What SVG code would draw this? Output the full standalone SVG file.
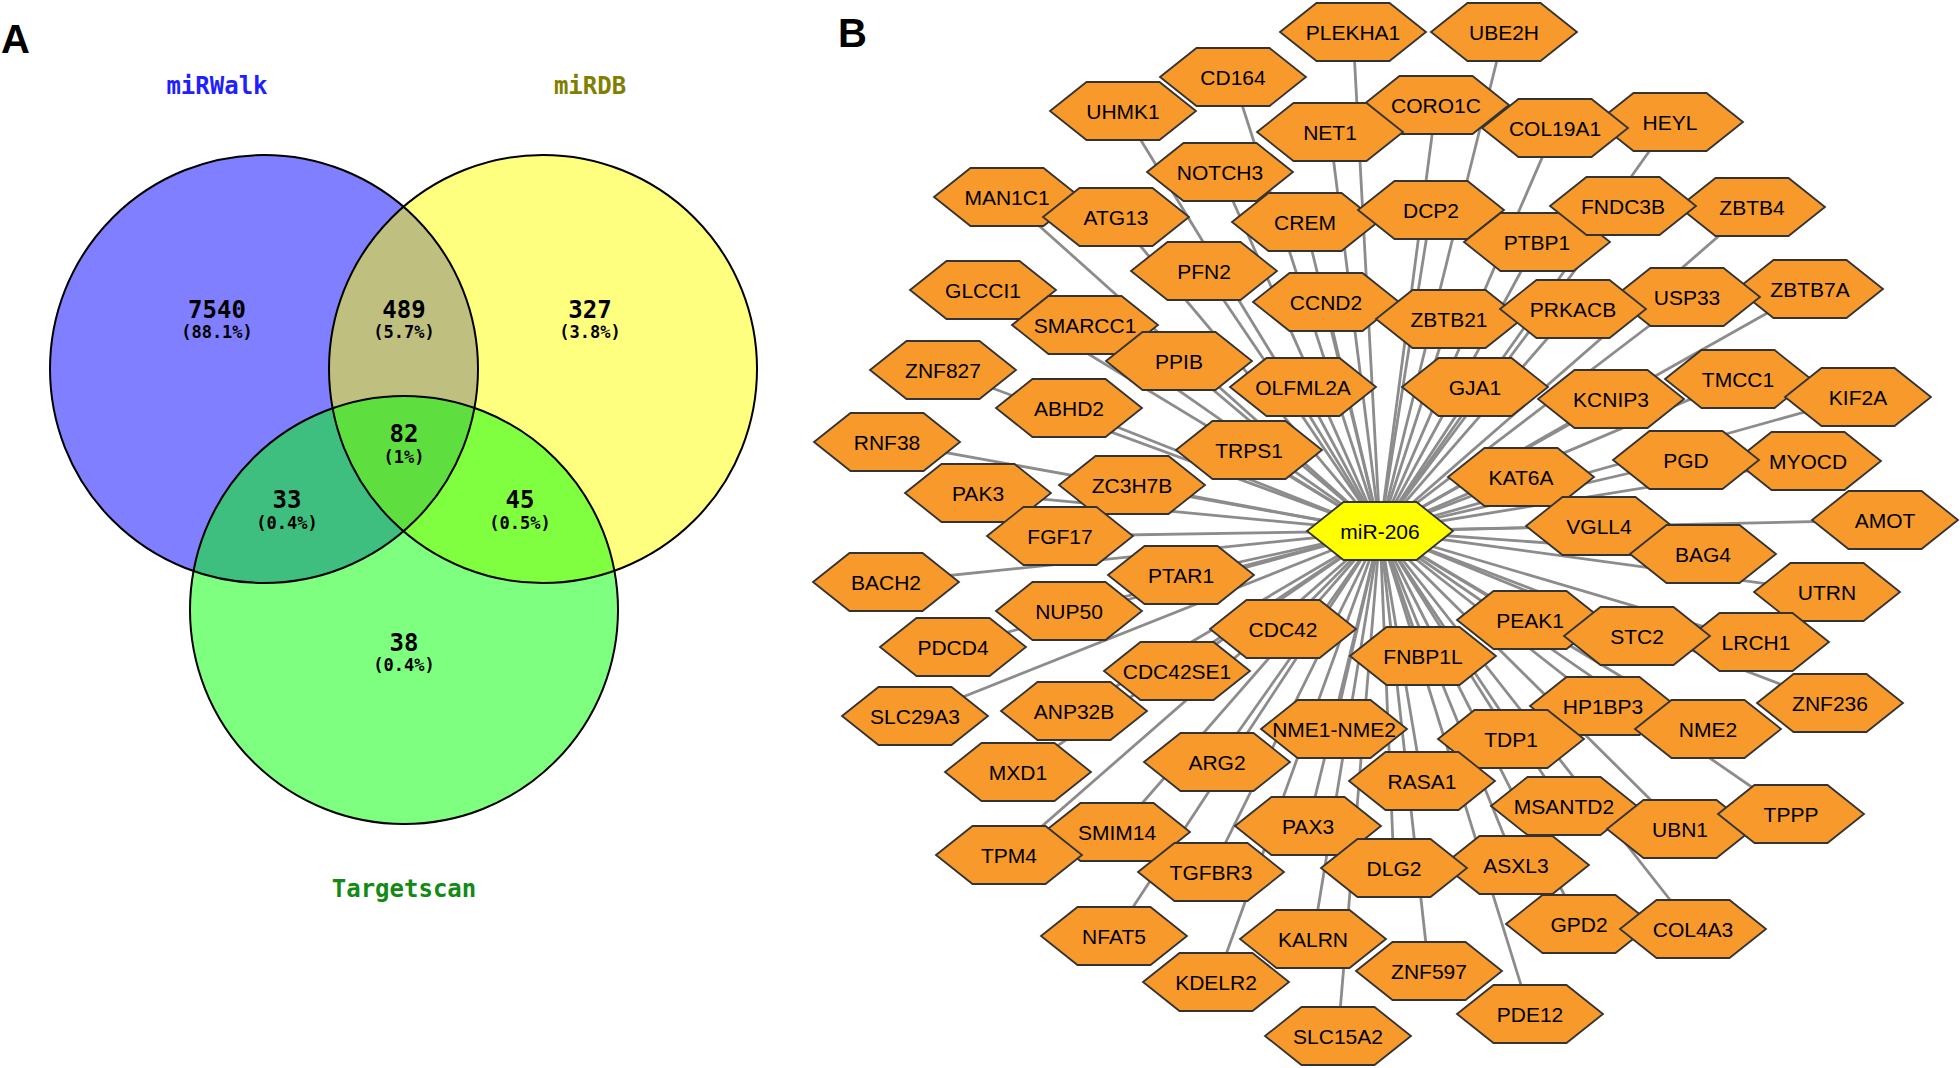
<svg xmlns="http://www.w3.org/2000/svg" xmlns:xlink="http://www.w3.org/1999/xlink" width="1960" height="1068" viewBox="0 0 1960 1068">
<style>
.hx{fill:#f7992b;stroke:#333;stroke-width:1.8}
.mir{fill:#ffff00;stroke:#333;stroke-width:1.8}
.lbl{font-family:"Liberation Sans",Arial,sans-serif;font-size:21px;text-anchor:middle;fill:#000}
.edges line{stroke:#8c8c8c;stroke-width:2.8}
.vnum{font-family:"DejaVu Sans Mono",monospace;font-size:24px;font-weight:bold;text-anchor:middle;fill:#000}
.vpct{font-family:"DejaVu Sans Mono",monospace;font-size:17px;font-weight:bold;text-anchor:middle;fill:#000}
.vlab{font-family:"DejaVu Sans Mono",monospace;font-size:24px;font-weight:bold;text-anchor:middle}
.panel{font-family:"Liberation Sans",Arial,sans-serif;font-size:40px;font-weight:bold;fill:#000}
.vout{fill:none;stroke:#000;stroke-width:2}
</style>
<defs>
<polygon id="hex" points="-73,0 -36.5,-29 36.5,-29 73,0 36.5,29 -36.5,29"/>
</defs>
<rect width="1960" height="1068" fill="#fff"/>
<text class="panel" x="1" y="53">A</text>
<text class="panel" x="838" y="47">B</text>
<g id="venn">
<circle cx="264" cy="369" r="214" fill="#0000ff" fill-opacity="0.5"/>
<circle cx="543" cy="369" r="214" fill="#ffff00" fill-opacity="0.5"/>
<circle cx="404" cy="610" r="214" fill="#00ff00" fill-opacity="0.5"/>
<circle class="vout" cx="264" cy="369" r="214"/>
<circle class="vout" cx="543" cy="369" r="214"/>
<circle class="vout" cx="404" cy="610" r="214"/>
<text class="vlab" x="217" y="94" fill="#1f1fff">miRWalk</text>
<text class="vlab" x="590" y="94" fill="#808000">miRDB</text>
<text class="vlab" x="404" y="897" fill="#138a13">Targetscan</text>
<text class="vnum" x="217" y="318">7540</text><text class="vpct" x="217" y="338">(88.1%)</text>
<text class="vnum" x="404" y="318">489</text><text class="vpct" x="404" y="338">(5.7%)</text>
<text class="vnum" x="590" y="318">327</text><text class="vpct" x="590" y="338">(3.8%)</text>
<text class="vnum" x="404" y="442">82</text><text class="vpct" x="404" y="463">(1%)</text>
<text class="vnum" x="287" y="508">33</text><text class="vpct" x="287" y="529">(0.4%)</text>
<text class="vnum" x="520" y="508">45</text><text class="vpct" x="520" y="529">(0.5%)</text>
<text class="vnum" x="404" y="651">38</text><text class="vpct" x="404" y="671">(0.4%)</text>
</g>
<g id="connectors" class="edges">
<line x1="1380" y1="531" x2="1353" y2="32"/>
<line x1="1380" y1="531" x2="1504" y2="32"/>
<line x1="1380" y1="531" x2="1233" y2="77"/>
<line x1="1380" y1="531" x2="1123" y2="111"/>
<line x1="1380" y1="531" x2="1670" y2="122"/>
<line x1="1380" y1="531" x2="1555" y2="128"/>
<line x1="1380" y1="531" x2="1436" y2="105"/>
<line x1="1380" y1="531" x2="1330" y2="132"/>
<line x1="1380" y1="531" x2="1220" y2="172"/>
<line x1="1380" y1="531" x2="1007" y2="197"/>
<line x1="1380" y1="531" x2="1116" y2="217"/>
<line x1="1380" y1="531" x2="1305" y2="222"/>
<line x1="1380" y1="531" x2="1431" y2="210"/>
<line x1="1380" y1="531" x2="1537" y2="242"/>
<line x1="1380" y1="531" x2="1752" y2="207"/>
<line x1="1380" y1="531" x2="1623" y2="206"/>
<line x1="1380" y1="531" x2="983" y2="290"/>
<line x1="1380" y1="531" x2="1204" y2="271"/>
<line x1="1380" y1="531" x2="1085" y2="325"/>
<line x1="1380" y1="531" x2="1326" y2="302"/>
<line x1="1380" y1="531" x2="1449" y2="319"/>
<line x1="1380" y1="531" x2="1810" y2="289"/>
<line x1="1380" y1="531" x2="1687" y2="297"/>
<line x1="1380" y1="531" x2="1573" y2="309"/>
<line x1="1380" y1="531" x2="943" y2="370"/>
<line x1="1380" y1="531" x2="1179" y2="361"/>
<line x1="1380" y1="531" x2="1303" y2="387"/>
<line x1="1380" y1="531" x2="1475" y2="387"/>
<line x1="1380" y1="531" x2="1611" y2="399"/>
<line x1="1380" y1="531" x2="1738" y2="379"/>
<line x1="1380" y1="531" x2="1858" y2="397"/>
<line x1="1380" y1="531" x2="1069" y2="408"/>
<line x1="1380" y1="531" x2="887" y2="442"/>
<line x1="1380" y1="531" x2="1249" y2="450"/>
<line x1="1380" y1="531" x2="1521" y2="477"/>
<line x1="1380" y1="531" x2="1808" y2="461"/>
<line x1="1380" y1="531" x2="1686" y2="460"/>
<line x1="1380" y1="531" x2="978" y2="493"/>
<line x1="1380" y1="531" x2="1132" y2="485"/>
<line x1="1380" y1="531" x2="1060" y2="536"/>
<line x1="1380" y1="531" x2="1599" y2="526"/>
<line x1="1380" y1="531" x2="1885" y2="520"/>
<line x1="1380" y1="531" x2="1703" y2="554"/>
<line x1="1380" y1="531" x2="886" y2="582"/>
<line x1="1380" y1="531" x2="1181" y2="575"/>
<line x1="1380" y1="531" x2="1827" y2="592"/>
<line x1="1380" y1="531" x2="1069" y2="611"/>
<line x1="1380" y1="531" x2="1530" y2="620"/>
<line x1="1380" y1="531" x2="1756" y2="642"/>
<line x1="1380" y1="531" x2="1637" y2="636"/>
<line x1="1380" y1="531" x2="953" y2="647"/>
<line x1="1380" y1="531" x2="1283" y2="629"/>
<line x1="1380" y1="531" x2="1423" y2="656"/>
<line x1="1380" y1="531" x2="1177" y2="671"/>
<line x1="1380" y1="531" x2="1830" y2="703"/>
<line x1="1380" y1="531" x2="915" y2="716"/>
<line x1="1380" y1="531" x2="1074" y2="711"/>
<line x1="1380" y1="531" x2="1603" y2="706"/>
<line x1="1380" y1="531" x2="1708" y2="729"/>
<line x1="1380" y1="531" x2="1334" y2="729"/>
<line x1="1380" y1="531" x2="1511" y2="739"/>
<line x1="1380" y1="531" x2="1018" y2="772"/>
<line x1="1380" y1="531" x2="1217" y2="762"/>
<line x1="1380" y1="531" x2="1422" y2="781"/>
<line x1="1380" y1="531" x2="1564" y2="806"/>
<line x1="1380" y1="531" x2="1680" y2="829"/>
<line x1="1380" y1="531" x2="1791" y2="814"/>
<line x1="1380" y1="531" x2="1117" y2="832"/>
<line x1="1380" y1="531" x2="1009" y2="855"/>
<line x1="1380" y1="531" x2="1308" y2="826"/>
<line x1="1380" y1="531" x2="1516" y2="865"/>
<line x1="1380" y1="531" x2="1394" y2="868"/>
<line x1="1380" y1="531" x2="1211" y2="872"/>
<line x1="1380" y1="531" x2="1579" y2="924"/>
<line x1="1380" y1="531" x2="1693" y2="929"/>
<line x1="1380" y1="531" x2="1114" y2="936"/>
<line x1="1380" y1="531" x2="1313" y2="939"/>
<line x1="1380" y1="531" x2="1429" y2="971"/>
<line x1="1380" y1="531" x2="1216" y2="982"/>
<line x1="1380" y1="531" x2="1530" y2="1014"/>
<line x1="1380" y1="531" x2="1338" y2="1036"/>
</g>
<g id="nodes">
<g id="n-PLEKHA1" transform="translate(1353,32)"><use href="#hex" class="hx"/><text class="lbl" y="7.5">PLEKHA1</text></g>
<g id="n-UBE2H" transform="translate(1504,32)"><use href="#hex" class="hx"/><text class="lbl" y="7.5">UBE2H</text></g>
<g id="n-CD164" transform="translate(1233,77)"><use href="#hex" class="hx"/><text class="lbl" y="7.5">CD164</text></g>
<g id="n-UHMK1" transform="translate(1123,111)"><use href="#hex" class="hx"/><text class="lbl" y="7.5">UHMK1</text></g>
<g id="n-HEYL" transform="translate(1670,122)"><use href="#hex" class="hx"/><text class="lbl" y="7.5">HEYL</text></g>
<g id="n-COL19A1" transform="translate(1555,128)"><use href="#hex" class="hx"/><text class="lbl" y="7.5">COL19A1</text></g>
<g id="n-CORO1C" transform="translate(1436,105)"><use href="#hex" class="hx"/><text class="lbl" y="7.5">CORO1C</text></g>
<g id="n-NET1" transform="translate(1330,132)"><use href="#hex" class="hx"/><text class="lbl" y="7.5">NET1</text></g>
<g id="n-NOTCH3" transform="translate(1220,172)"><use href="#hex" class="hx"/><text class="lbl" y="7.5">NOTCH3</text></g>
<g id="n-MAN1C1" transform="translate(1007,197)"><use href="#hex" class="hx"/><text class="lbl" y="7.5">MAN1C1</text></g>
<g id="n-ATG13" transform="translate(1116,217)"><use href="#hex" class="hx"/><text class="lbl" y="7.5">ATG13</text></g>
<g id="n-CREM" transform="translate(1305,222)"><use href="#hex" class="hx"/><text class="lbl" y="7.5">CREM</text></g>
<g id="n-DCP2" transform="translate(1431,210)"><use href="#hex" class="hx"/><text class="lbl" y="7.5">DCP2</text></g>
<g id="n-PTBP1" transform="translate(1537,242)"><use href="#hex" class="hx"/><text class="lbl" y="7.5">PTBP1</text></g>
<g id="n-ZBTB4" transform="translate(1752,207)"><use href="#hex" class="hx"/><text class="lbl" y="7.5">ZBTB4</text></g>
<g id="n-FNDC3B" transform="translate(1623,206)"><use href="#hex" class="hx"/><text class="lbl" y="7.5">FNDC3B</text></g>
<g id="n-GLCCI1" transform="translate(983,290)"><use href="#hex" class="hx"/><text class="lbl" y="7.5">GLCCI1</text></g>
<g id="n-PFN2" transform="translate(1204,271)"><use href="#hex" class="hx"/><text class="lbl" y="7.5">PFN2</text></g>
<g id="n-SMARCC1" transform="translate(1085,325)"><use href="#hex" class="hx"/><text class="lbl" y="7.5">SMARCC1</text></g>
<g id="n-CCND2" transform="translate(1326,302)"><use href="#hex" class="hx"/><text class="lbl" y="7.5">CCND2</text></g>
<g id="n-ZBTB21" transform="translate(1449,319)"><use href="#hex" class="hx"/><text class="lbl" y="7.5">ZBTB21</text></g>
<g id="n-ZBTB7A" transform="translate(1810,289)"><use href="#hex" class="hx"/><text class="lbl" y="7.5">ZBTB7A</text></g>
<g id="n-USP33" transform="translate(1687,297)"><use href="#hex" class="hx"/><text class="lbl" y="7.5">USP33</text></g>
<g id="n-PRKACB" transform="translate(1573,309)"><use href="#hex" class="hx"/><text class="lbl" y="7.5">PRKACB</text></g>
<g id="n-ZNF827" transform="translate(943,370)"><use href="#hex" class="hx"/><text class="lbl" y="7.5">ZNF827</text></g>
<g id="n-PPIB" transform="translate(1179,361)"><use href="#hex" class="hx"/><text class="lbl" y="7.5">PPIB</text></g>
<g id="n-OLFML2A" transform="translate(1303,387)"><use href="#hex" class="hx"/><text class="lbl" y="7.5">OLFML2A</text></g>
<g id="n-GJA1" transform="translate(1475,387)"><use href="#hex" class="hx"/><text class="lbl" y="7.5">GJA1</text></g>
<g id="n-KCNIP3" transform="translate(1611,399)"><use href="#hex" class="hx"/><text class="lbl" y="7.5">KCNIP3</text></g>
<g id="n-TMCC1" transform="translate(1738,379)"><use href="#hex" class="hx"/><text class="lbl" y="7.5">TMCC1</text></g>
<g id="n-KIF2A" transform="translate(1858,397)"><use href="#hex" class="hx"/><text class="lbl" y="7.5">KIF2A</text></g>
<g id="n-ABHD2" transform="translate(1069,408)"><use href="#hex" class="hx"/><text class="lbl" y="7.5">ABHD2</text></g>
<g id="n-RNF38" transform="translate(887,442)"><use href="#hex" class="hx"/><text class="lbl" y="7.5">RNF38</text></g>
<g id="n-TRPS1" transform="translate(1249,450)"><use href="#hex" class="hx"/><text class="lbl" y="7.5">TRPS1</text></g>
<g id="n-KAT6A" transform="translate(1521,477)"><use href="#hex" class="hx"/><text class="lbl" y="7.5">KAT6A</text></g>
<g id="n-MYOCD" transform="translate(1808,461)"><use href="#hex" class="hx"/><text class="lbl" y="7.5">MYOCD</text></g>
<g id="n-PGD" transform="translate(1686,460)"><use href="#hex" class="hx"/><text class="lbl" y="7.5">PGD</text></g>
<g id="n-PAK3" transform="translate(978,493)"><use href="#hex" class="hx"/><text class="lbl" y="7.5">PAK3</text></g>
<g id="n-ZC3H7B" transform="translate(1132,485)"><use href="#hex" class="hx"/><text class="lbl" y="7.5">ZC3H7B</text></g>
<g id="n-FGF17" transform="translate(1060,536)"><use href="#hex" class="hx"/><text class="lbl" y="7.5">FGF17</text></g>
<g id="n-VGLL4" transform="translate(1599,526)"><use href="#hex" class="hx"/><text class="lbl" y="7.5">VGLL4</text></g>
<g id="n-AMOT" transform="translate(1885,520)"><use href="#hex" class="hx"/><text class="lbl" y="7.5">AMOT</text></g>
<g id="n-BAG4" transform="translate(1703,554)"><use href="#hex" class="hx"/><text class="lbl" y="7.5">BAG4</text></g>
<g id="n-BACH2" transform="translate(886,582)"><use href="#hex" class="hx"/><text class="lbl" y="7.5">BACH2</text></g>
<g id="n-PTAR1" transform="translate(1181,575)"><use href="#hex" class="hx"/><text class="lbl" y="7.5">PTAR1</text></g>
<g id="n-UTRN" transform="translate(1827,592)"><use href="#hex" class="hx"/><text class="lbl" y="7.5">UTRN</text></g>
<g id="n-NUP50" transform="translate(1069,611)"><use href="#hex" class="hx"/><text class="lbl" y="7.5">NUP50</text></g>
<g id="n-PEAK1" transform="translate(1530,620)"><use href="#hex" class="hx"/><text class="lbl" y="7.5">PEAK1</text></g>
<g id="n-LRCH1" transform="translate(1756,642)"><use href="#hex" class="hx"/><text class="lbl" y="7.5">LRCH1</text></g>
<g id="n-STC2" transform="translate(1637,636)"><use href="#hex" class="hx"/><text class="lbl" y="7.5">STC2</text></g>
<g id="n-PDCD4" transform="translate(953,647)"><use href="#hex" class="hx"/><text class="lbl" y="7.5">PDCD4</text></g>
<g id="n-CDC42" transform="translate(1283,629)"><use href="#hex" class="hx"/><text class="lbl" y="7.5">CDC42</text></g>
<g id="n-FNBP1L" transform="translate(1423,656)"><use href="#hex" class="hx"/><text class="lbl" y="7.5">FNBP1L</text></g>
<g id="n-CDC42SE1" transform="translate(1177,671)"><use href="#hex" class="hx"/><text class="lbl" y="7.5">CDC42SE1</text></g>
<g id="n-ZNF236" transform="translate(1830,703)"><use href="#hex" class="hx"/><text class="lbl" y="7.5">ZNF236</text></g>
<g id="n-SLC29A3" transform="translate(915,716)"><use href="#hex" class="hx"/><text class="lbl" y="7.5">SLC29A3</text></g>
<g id="n-ANP32B" transform="translate(1074,711)"><use href="#hex" class="hx"/><text class="lbl" y="7.5">ANP32B</text></g>
<g id="n-HP1BP3" transform="translate(1603,706)"><use href="#hex" class="hx"/><text class="lbl" y="7.5">HP1BP3</text></g>
<g id="n-NME2" transform="translate(1708,729)"><use href="#hex" class="hx"/><text class="lbl" y="7.5">NME2</text></g>
<g id="n-NME1-NME2" transform="translate(1334,729)"><use href="#hex" class="hx"/><text class="lbl" y="7.5">NME1-NME2</text></g>
<g id="n-TDP1" transform="translate(1511,739)"><use href="#hex" class="hx"/><text class="lbl" y="7.5">TDP1</text></g>
<g id="n-MXD1" transform="translate(1018,772)"><use href="#hex" class="hx"/><text class="lbl" y="7.5">MXD1</text></g>
<g id="n-ARG2" transform="translate(1217,762)"><use href="#hex" class="hx"/><text class="lbl" y="7.5">ARG2</text></g>
<g id="n-RASA1" transform="translate(1422,781)"><use href="#hex" class="hx"/><text class="lbl" y="7.5">RASA1</text></g>
<g id="n-MSANTD2" transform="translate(1564,806)"><use href="#hex" class="hx"/><text class="lbl" y="7.5">MSANTD2</text></g>
<g id="n-UBN1" transform="translate(1680,829)"><use href="#hex" class="hx"/><text class="lbl" y="7.5">UBN1</text></g>
<g id="n-TPPP" transform="translate(1791,814)"><use href="#hex" class="hx"/><text class="lbl" y="7.5">TPPP</text></g>
<g id="n-SMIM14" transform="translate(1117,832)"><use href="#hex" class="hx"/><text class="lbl" y="7.5">SMIM14</text></g>
<g id="n-TPM4" transform="translate(1009,855)"><use href="#hex" class="hx"/><text class="lbl" y="7.5">TPM4</text></g>
<g id="n-PAX3" transform="translate(1308,826)"><use href="#hex" class="hx"/><text class="lbl" y="7.5">PAX3</text></g>
<g id="n-ASXL3" transform="translate(1516,865)"><use href="#hex" class="hx"/><text class="lbl" y="7.5">ASXL3</text></g>
<g id="n-DLG2" transform="translate(1394,868)"><use href="#hex" class="hx"/><text class="lbl" y="7.5">DLG2</text></g>
<g id="n-TGFBR3" transform="translate(1211,872)"><use href="#hex" class="hx"/><text class="lbl" y="7.5">TGFBR3</text></g>
<g id="n-GPD2" transform="translate(1579,924)"><use href="#hex" class="hx"/><text class="lbl" y="7.5">GPD2</text></g>
<g id="n-COL4A3" transform="translate(1693,929)"><use href="#hex" class="hx"/><text class="lbl" y="7.5">COL4A3</text></g>
<g id="n-NFAT5" transform="translate(1114,936)"><use href="#hex" class="hx"/><text class="lbl" y="7.5">NFAT5</text></g>
<g id="n-KALRN" transform="translate(1313,939)"><use href="#hex" class="hx"/><text class="lbl" y="7.5">KALRN</text></g>
<g id="n-ZNF597" transform="translate(1429,971)"><use href="#hex" class="hx"/><text class="lbl" y="7.5">ZNF597</text></g>
<g id="n-KDELR2" transform="translate(1216,982)"><use href="#hex" class="hx"/><text class="lbl" y="7.5">KDELR2</text></g>
<g id="n-PDE12" transform="translate(1530,1014)"><use href="#hex" class="hx"/><text class="lbl" y="7.5">PDE12</text></g>
<g id="n-SLC15A2" transform="translate(1338,1036)"><use href="#hex" class="hx"/><text class="lbl" y="7.5">SLC15A2</text></g>
<g id="n-miR-206" transform="translate(1380,531)"><use href="#hex" class="mir"/><text class="lbl" y="7.5">miR-206</text></g>
</g>
</svg>
